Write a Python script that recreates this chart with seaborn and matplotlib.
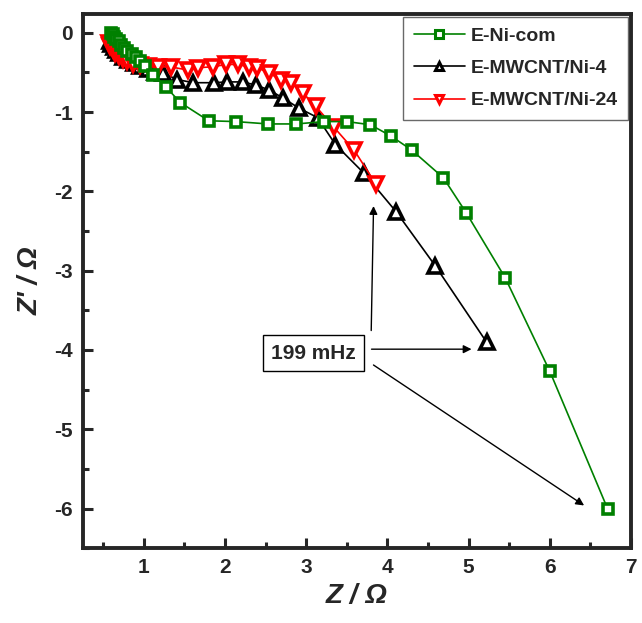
import numpy as np
import pandas as pd
import seaborn as sns
import matplotlib.pyplot as plt
from matplotlib.ticker import MultipleLocator

# E-Ni-com (green squares)
ni_com_x = [0.60, 0.62, 0.64, 0.66, 0.69, 0.72, 0.76, 0.80, 0.85, 0.90,
            0.96, 1.02, 1.12, 1.27, 1.45, 1.80, 2.13, 2.53, 2.88, 3.22,
            3.50, 3.79, 4.04, 4.30, 4.69, 4.97, 5.45, 6.00, 6.71]
ni_com_y = [0.00, -0.02, -0.05, -0.08, -0.11, -0.15, -0.19, -0.23, -0.27, -0.30,
            -0.36, -0.42, -0.53, -0.68, -0.88, -1.11, -1.12, -1.15, -1.15, -1.12,
            -1.12, -1.16, -1.30, -1.48, -1.83, -2.27, -3.09, -4.27, -6.00]

# E-MWCNT/Ni-4 (black up triangles)
ni4_x = [0.58, 0.60, 0.63, 0.66, 0.70, 0.75, 0.81, 0.88, 0.96, 1.05,
         1.14, 1.24, 1.41, 1.61, 1.86, 2.03, 2.22, 2.38, 2.54, 2.71,
         2.91, 3.14, 3.36, 3.71, 4.11, 4.59, 5.22]
ni4_y = [-0.10, -0.14, -0.18, -0.22, -0.26, -0.30, -0.34, -0.38, -0.42, -0.46,
         -0.49, -0.51, -0.59, -0.63, -0.63, -0.62, -0.62, -0.66, -0.72, -0.82,
         -0.95, -1.07, -1.41, -1.77, -2.26, -2.94, -3.90]

# E-MWCNT/Ni-24 (red down triangles)
ni24_x = [0.57, 0.59, 0.62, 0.65, 0.69, 0.74, 0.80, 0.87, 0.95, 1.05,
          1.17, 1.33, 1.54, 1.67, 1.85, 2.01, 2.16, 2.29, 2.40, 2.54,
          2.69, 2.81, 2.96, 3.12, 3.34, 3.59, 3.86]
ni24_y = [-0.13, -0.17, -0.21, -0.25, -0.29, -0.33, -0.36, -0.39, -0.41, -0.42,
          -0.43, -0.43, -0.47, -0.44, -0.43, -0.40, -0.40, -0.43, -0.44, -0.51,
          -0.59, -0.63, -0.76, -0.93, -1.19, -1.48, -1.91]

sns.set_style("ticks")
plt.rcParams['font.family'] = ['Liberation Sans', 'DejaVu Sans']
plt.rcParams['font.weight'] = 'bold'
plt.rcParams['axes.unicode_minus'] = False

fig = plt.figure(figsize=(6.42, 6.23), dpi=100)
ax = fig.add_axes([0.129, 0.120, 0.854, 0.858])

sns.lineplot(x=ni_com_x, y=ni_com_y, sort=False, ax=ax, color='#008000',
             marker='s', ms=7, mfc='white', mec='#008000', mew=2.6, lw=1.2,
             label='E-Ni-com', zorder=4)
sns.lineplot(x=ni4_x, y=ni4_y, sort=False, ax=ax, color='black',
             marker='^', ms=10, mfc='white', mec='black', mew=2.6, lw=1.2,
             label='E-MWCNT/Ni-4', zorder=2)
sns.lineplot(x=ni24_x, y=ni24_y, sort=False, ax=ax, color='#ff0000',
             marker='v', ms=10, mfc='white', mec='#ff0000', mew=2.6, lw=1.2,
             label='E-MWCNT/Ni-24', zorder=3)

ax.set_xlim(0.25, 7)
ax.set_ylim(-6.5, 0.24)
ax.xaxis.set_major_locator(MultipleLocator(1))
ax.xaxis.set_minor_locator(MultipleLocator(0.5))
ax.yaxis.set_major_locator(MultipleLocator(1))
ax.yaxis.set_minor_locator(MultipleLocator(0.5))
ax.set_xticks([1, 2, 3, 4, 5, 6, 7])
ax.set_xticklabels(['1', '2', '3', '4', '5', '6', '7'])
ax.tick_params(which='both', direction='in', top=False, right=False,
               labelsize=15, width=2.2, pad=7)
ax.tick_params(which='major', length=7)
ax.tick_params(which='minor', length=4)
for lab in ax.get_xticklabels() + ax.get_yticklabels():
    lab.set_fontweight('bold')
for sp in ax.spines.values():
    sp.set_linewidth(2.8)
    sp.set_visible(True)

ax.set_xlabel("Z / Ω", fontsize=20, fontweight='bold', fontstyle='italic', labelpad=4)
ax.set_ylabel("Z' / Ω", fontsize=20, fontweight='bold', fontstyle='italic', labelpad=8)

leg = ax.legend(loc='upper right', borderaxespad=0.15, fontsize=14, frameon=True,
                fancybox=False, handlelength=2.6, handletextpad=0.3,
                borderpad=0.55, labelspacing=0.75)
leg.get_frame().set_edgecolor('#444444')
leg.get_frame().set_linewidth(1.0)
for txt in leg.get_texts():
    txt.set_fontweight('bold')
for h in leg.legend_handles:
    h.set_markersize(6)
    h.set_markeredgewidth(2.2)

# 199 mHz annotation
ax.text(3.09, -4.04, "199 mHz", fontsize=15, fontweight='bold', ha='center', va='center',
        bbox=dict(boxstyle='square,pad=0.4', fc='white', ec='black', lw=1.0))
arrow = dict(arrowstyle='-|>', color='black', lw=1.0, mutation_scale=12)
ax.annotate("", xy=(3.83, -2.15), xytext=(3.80, -3.79), arrowprops=arrow)
ax.annotate("", xy=(5.07, -3.99), xytext=(3.77, -3.99), arrowprops=arrow)
ax.annotate("", xy=(6.45, -5.98), xytext=(3.80, -4.17), arrowprops=arrow)

fig.savefig("out.png", dpi=100)
